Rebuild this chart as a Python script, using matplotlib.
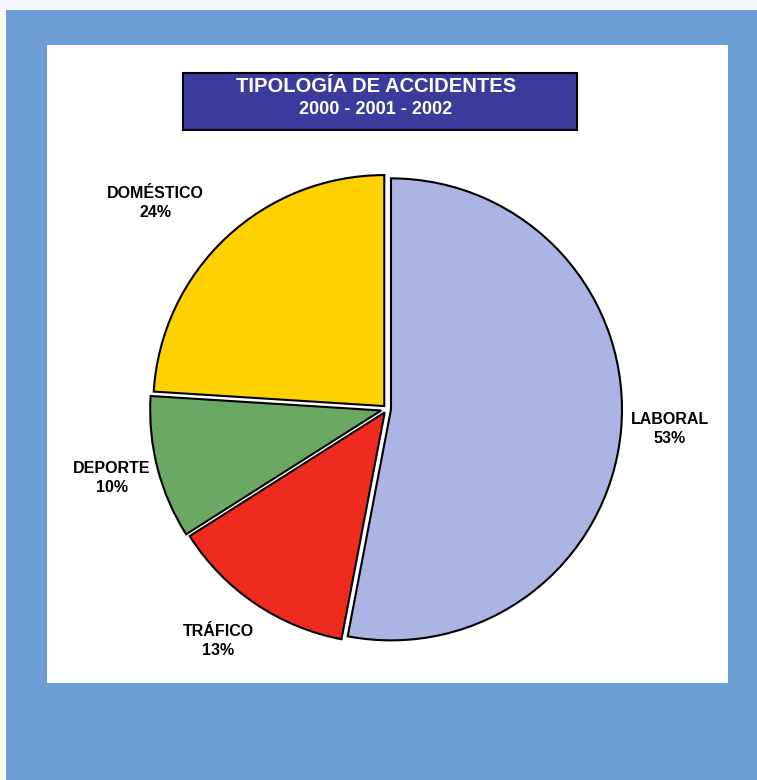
import matplotlib.pyplot as plt
from matplotlib.patches import Rectangle

# --- data ---
categories = ["LABORAL", "TRÁFICO", "DEPORTE", "DOMÉSTICO"]
percent = [53, 13, 10, 24]
colors = ["#abb4e2", "#ee2b1f", "#6aa964", "#ffd100"]
title_1 = "TIPOLOGÍA DE ACCIDENTES"
title_2 = "2000 - 2001 - 2002"

W, H = 757, 780
plt.rcParams['font.family'] = ['Liberation Sans', 'DejaVu Sans']

fig = plt.figure(figsize=(W / 100, H / 100), dpi=100)
fig.patch.set_facecolor("#f4f6f8")
ax = fig.add_axes([0, 0, 1, 1])


def Y(y):
    # picture rows (top down) to axes coords (bottom up)
    return H - y


# blue frame + white panel
ax.add_patch(Rectangle((6, 0), W - 6, Y(10), facecolor="#6c9dd4", edgecolor="none", zorder=0))
ax.add_patch(Rectangle((47, Y(683)), 681, 638, facecolor="white", edgecolor="none", zorder=1))

# title box
ax.add_patch(Rectangle((183, Y(130)), 394, 57, facecolor="#3b3b9c", edgecolor="black",
                       linewidth=1.5, zorder=2))
ax.text(376, Y(87), title_1, color="white", fontsize=14.5, fontweight="bold",
        ha="center", va="center", zorder=3)
ax.text(376, Y(110), title_2, color="white", fontsize=13, fontweight="bold",
        ha="center", va="center", zorder=3)

# pie (explode is in axes units = pixels here)
wedges, _ = ax.pie(percent, colors=colors, startangle=90, counterclock=False,
                   explode=[4, 4, 6, 4], center=(387, Y(409)), radius=231,
                   frame=True,
                   wedgeprops=dict(edgecolor="black", linewidth=1.5))
for w in wedges:
    w.set_zorder(4)

# labels
label_pos = [(670, 429), (218, 641), (112, 478), (155, 203)]
for name, p, (x, y) in zip(categories, percent, label_pos):
    ax.text(x, Y(y), f"{name}\n{p}%", fontsize=11.5, fontweight="bold",
            ha="center", va="center", linespacing=1.4, zorder=5)

ax.set_xlim(0, W)
ax.set_ylim(0, H)
ax.set_aspect("auto")
ax.axis("off")

fig.savefig("out.png", dpi=100, facecolor=fig.get_facecolor())
